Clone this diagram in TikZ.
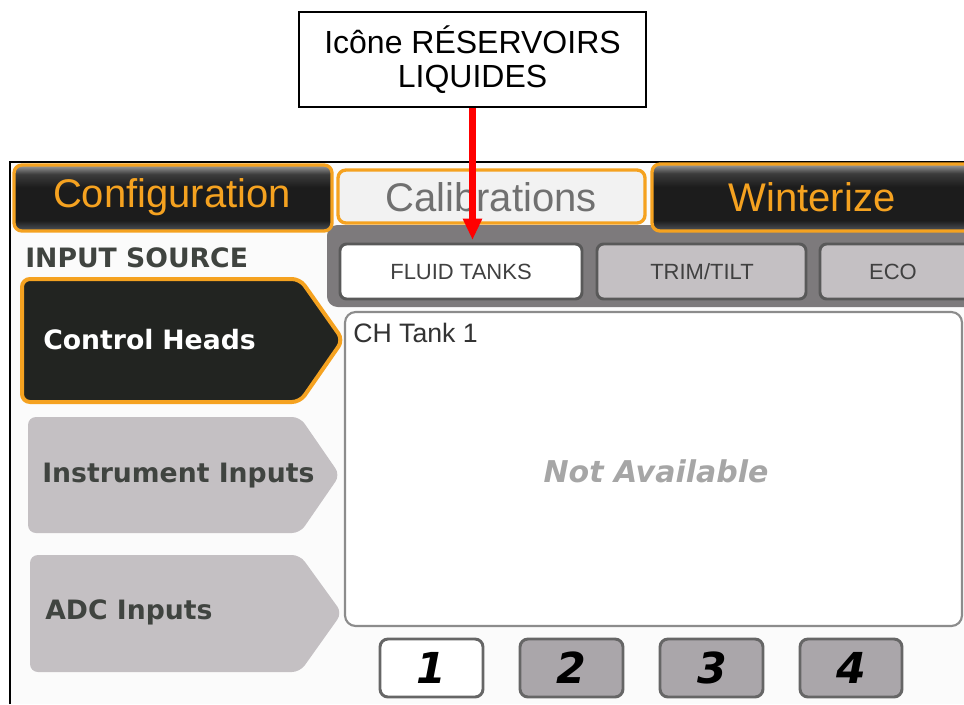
\documentclass[tikz,border=0pt]{standalone}
\usepackage{fontspec}
\setmainfont{Liberation Sans}
\newfontfamily\dvs{DejaVu Sans}
\usetikzlibrary{arrows.meta}
\definecolor{uiorange}{RGB}{245,162,32}
\definecolor{uidark}{RGB}{34,36,33}
\definecolor{uiband}{RGB}{125,122,124}
\definecolor{uilight}{RGB}{196,192,195}
\definecolor{uinum}{RGB}{170,166,170}
\definecolor{uitext}{RGB}{64,68,64}
\definecolor{uigraytext}{RGB}{112,112,112}
\definecolor{uiscreen}{RGB}{251,251,251}
\definecolor{tabtop}{RGB}{160,160,160}
\definecolor{tabmid}{RGB}{60,60,60}
\definecolor{tabdark}{RGB}{28,28,28}
\definecolor{tabbot}{RGB}{80,85,92}
\pgfdeclareverticalshading{darktab}{100bp}{color(0bp)=(tabbot); color(25bp)=(tabbot); color(33bp)=(tabdark); color(58bp)=(tabdark); color(68bp)=(tabmid); color(75bp)=(tabtop); color(100bp)=(tabtop)}
\tikzset{
  darktabbox/.style={draw=uiorange, line width=2.5pt, rounded corners=6pt, shading=darktab},
  tabtext/.style={text=uiorange, font=\fontsize{30}{34}\selectfont},
  subbtn/.style={draw=black!65, line width=2.2pt, rounded corners=5pt},
  subtext/.style={text=black!75, font=\fontsize{16.5}{19}\selectfont},
  numbtn/.style={draw=black!60, line width=2.2pt, rounded corners=6pt},
  numtext/.style={font=\dvs\bfseries\itshape\fontsize{32}{36}\selectfont},
  srctext/.style={anchor=west, font=\dvs\bfseries\fontsize{20}{24}\selectfont},
  srcbox/.style={rounded corners=6pt}
}
\begin{document}
\begin{tikzpicture}[x=0.75pt,y=-0.75pt]
\useasboundingbox (0,0) rectangle (964,704);
% screen
\fill[uiscreen] (10,162) rectangle (964,704);
\draw[black, line width=2pt] (10,704) -- (10,162) -- (964,162);
% gray band under tabs
\fill[uiband, rounded corners=8pt] (327,225) -- (327,307) -- (980,307) -- (980,225) -- cycle;
% top tabs
\path[darktabbox] (14,165) rectangle (332,231);
\node[tabtext] (cfg) at (172,197) {Configuration};
\draw[draw=uiorange, fill=black!5, line width=2.5pt, rounded corners=6pt] (338,170) rectangle (645,223);
\node[text=uigraytext, font=\fontsize{30}{34}\selectfont] (cal) at (491,197) {Calibrations};
\path[darktabbox] (652,164) rectangle (990,231);
\node[tabtext] (win) at (812,197) {Winterize};
% sub buttons
\draw[subbtn, fill=white] (340,244) rectangle (582,299);
\node[subtext] (fluid) at (461,272) {FLUID TANKS};
\draw[subbtn, fill=uilight] (597,244) rectangle (806,299);
\node[subtext] (trim) at (702,272) {TRIM/TILT};
\draw[subbtn, fill=uilight] (820,244) rectangle (990,299);
\node[subtext] (eco) at (893,272) {ECO};
% main panel
\draw[draw=black!45, fill=white, line width=1.6pt, rounded corners=8pt] (345,312) rectangle (962,626);
\node[anchor=west, text=black!80, font=\fontsize{20}{24}\selectfont, inner sep=0pt] (chtank) at (353,333) {CH Tank 1};
\node[text=black!35, font=\dvs\bfseries\itshape\fontsize{22.5}{26}\selectfont] (na) at (656,471) {Not Available};
% input source
\node[srctext, text=uitext, inner sep=0pt] (insrc) at (25,258) {INPUT SOURCE};
\draw[srcbox, fill=uidark, draw=uiorange, line width=3pt] (22,279) -- (300,279) -- (343,340) -- (300,402) -- (22,402) -- cycle;
\node[srctext, text=white, inner sep=0pt] (ch) at (43,340) {Control\,\,Heads};
\fill[srcbox, uilight] (28,417) -- (300,417) -- (340,475) -- (300,533) -- (28,533) -- cycle;
\node[srctext, text=uitext, inner sep=0pt] (ii) at (42,476) {Instrument Inputs};
\fill[srcbox, uilight] (30,555) -- (300,555) -- (342,613) -- (300,672) -- (30,672) -- cycle;
\node[srctext, text=uitext, inner sep=0pt] (adc) at (45,612) {ADC Inputs};
% number buttons
\draw[numbtn, fill=white] (380,639) rectangle (483,697);
\node[numtext] (n1) at (431,668) {1};
\draw[numbtn, fill=uinum] (520,639) rectangle (623,697);
\node[numtext] (n2) at (571,668) {2};
\draw[numbtn, fill=uinum] (660,639) rectangle (763,697);
\node[numtext] (n3) at (712,668) {3};
\draw[numbtn, fill=uinum] (800,639) rectangle (902,697);
\node[numtext] (n4) at (851,668) {4};
% callout
\node[draw=black, line width=1.2pt, fill=white, minimum width=260.25pt, minimum height=71.25pt, align=center, font=\fontsize{24}{25}\selectfont] (callout) at (472.5,59.5) {Icône RÉSERVOIRS\\LIQUIDES};
\coordinate (tip) at (472.5,240);
\draw[red, line width=5.2pt, -{Triangle[width=13.5pt,length=16pt]}] (callout.south) -- (tip);
\end{tikzpicture}
\end{document}
